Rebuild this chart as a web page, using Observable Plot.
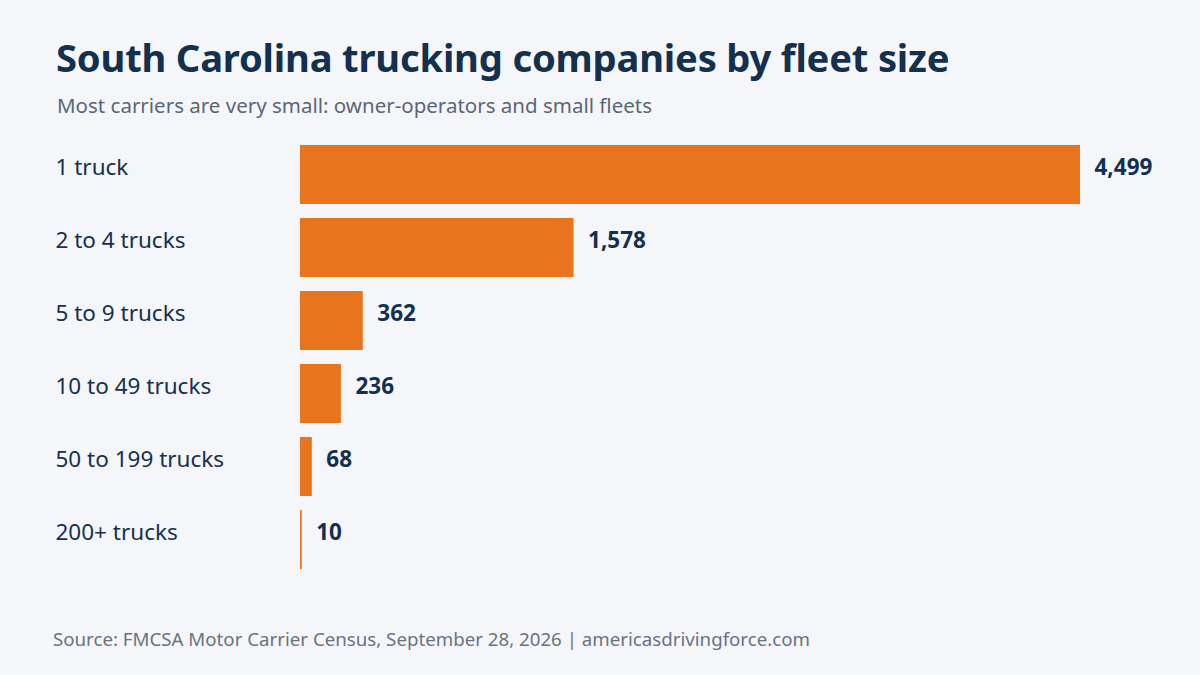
<!DOCTYPE html>
<html>
<head>
<meta charset="utf-8">
<script src="https://cdn.jsdelivr.net/npm/d3@7"></script>
<script src="https://cdn.jsdelivr.net/npm/@observablehq/plot@0.6"></script>
<style>
  html, body { margin: 0; padding: 0; background: #f4f6fa; }
  body { width: 1200px; height: 675px; position: relative; overflow: hidden; font-family: "Noto Sans", sans-serif; }
  #title { position: absolute; left: 56px; top: 31px; margin: 0; font-size: 38.2px; font-weight: 700; color: #14304f; white-space: nowrap; letter-spacing: -0.2px; }
  #subtitle { position: absolute; left: 57px; top: 91px; margin: 0; font-size: 20.5px; color: #5b6675; white-space: nowrap; }
  #chart { position: absolute; left: 0; top: 131px; }
  #source { position: absolute; left: 53px; top: 626px; margin: 0; font-size: 18.7px; color: #6b7380; white-space: nowrap; }
</style>
</head>
<body>
<h1 id="title">South Carolina trucking companies by fleet size</h1>
<p id="subtitle">Most carriers are very small: owner-operators and small fleets</p>
<div id="chart"></div>
<p id="source">Source: FMCSA Motor Carrier Census, September 28, 2026 | americasdrivingforce.com</p>
<script>
const categories = ["1 truck", "2 to 4 trucks", "5 to 9 trucks", "10 to 49 trucks", "50 to 199 trucks", "200+ trucks"];
const counts = [4499, 1578, 362, 236, 68, 10];

const data = categories.map((c, i) => ({category: c, count: counts[i]}));
const fmt = d3.format(",");

const chart = Plot.plot({
  width: 1200,
  height: 452,
  marginTop: 0,
  marginBottom: 0,
  marginLeft: 0,
  marginRight: 0,
  style: {background: "transparent", fontFamily: "Noto Sans, sans-serif", overflow: "visible"},
  x: {domain: [0, d3.max(counts)], range: [300, 1080], axis: null},
  y: {domain: categories, padding: 0.19, axis: null},
  marks: [
    Plot.barX(data, {x: "count", y: "category", fill: "#e8751e"}),
    Plot.text(data, {
      y: "category", text: "category", frameAnchor: "left", dx: 55,
      textAnchor: "start", lineAnchor: "bottom", fontSize: 22.5, fill: "#16304f"
    }),
    Plot.text(data, {
      x: "count", y: "category", text: d => fmt(d.count), dx: 14,
      textAnchor: "start", lineAnchor: "bottom", fontSize: 22.5, fontWeight: 700, fill: "#14304f"
    })
  ]
});
document.getElementById("chart").appendChild(chart);
</script>
</body>
</html>
